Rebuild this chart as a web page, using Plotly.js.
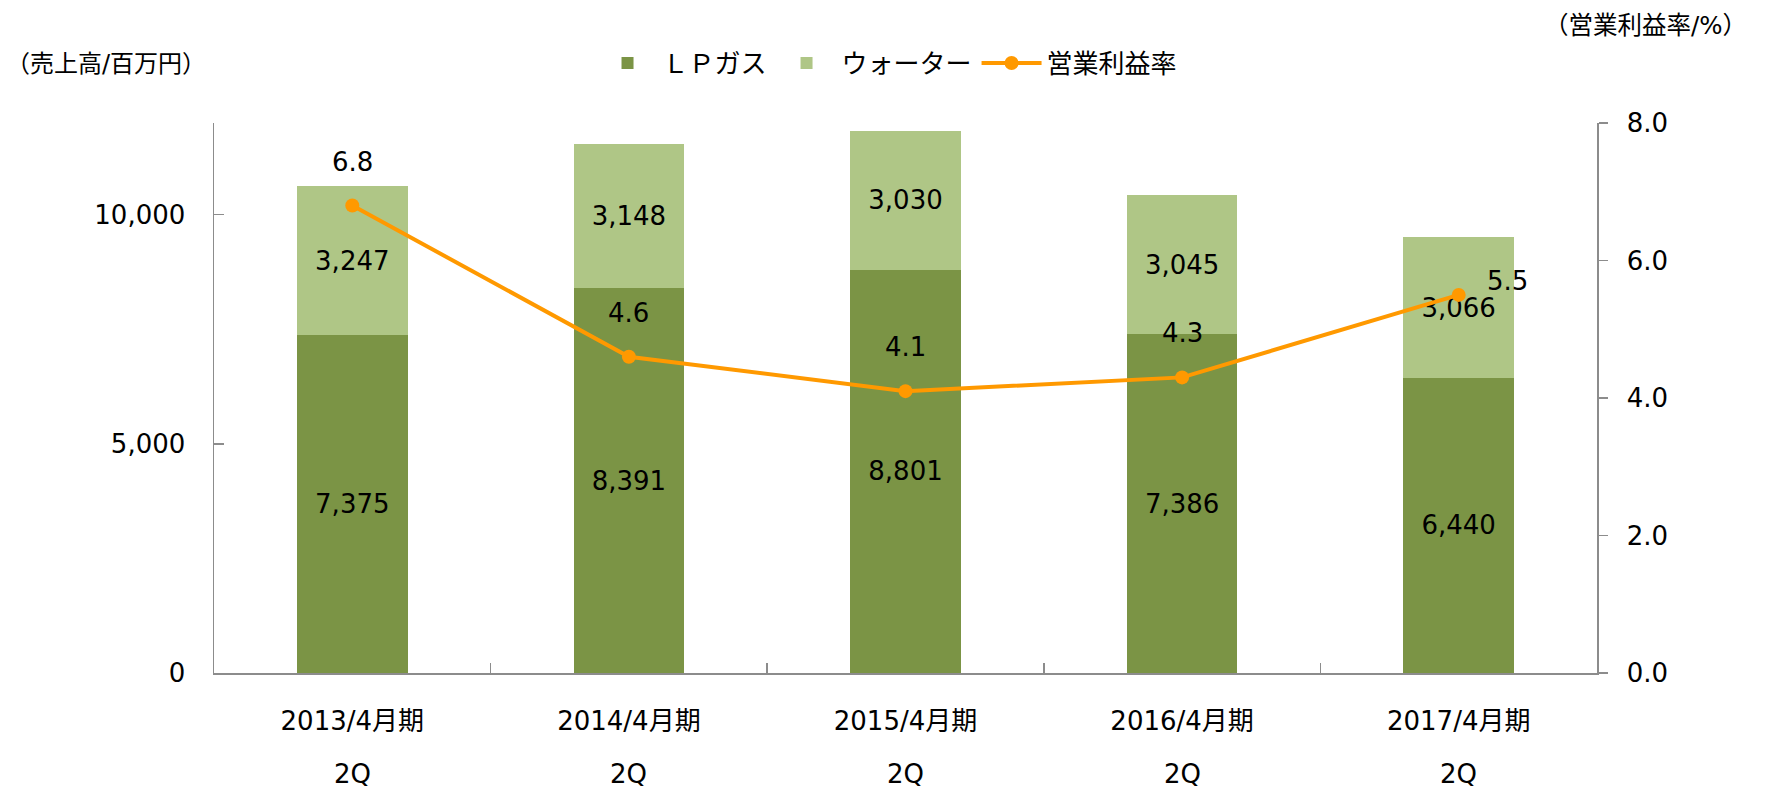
<!DOCTYPE html>
<html>
<head>
<meta charset="utf-8">
<script src="https://cdn.plot.ly/plotly-3.0.1.min.js"></script>
<style>html,body{margin:0;padding:0;background:#fff;}#chart{width:1767px;height:789px;}</style>
</head>
<body>
<div id="chart"></div>
<script>
// ---- data ----
const periods = ['2013/4月期', '2014/4月期', '2015/4月期', '2016/4月期', '2017/4月期'];
const quarter = '2Q';
const lpGas = [7375, 8391, 8801, 7386, 6440];
const water = [3247, 3148, 3030, 3045, 3066];
const margin = [6.8, 4.6, 4.1, 4.3, 5.5];
const seriesNames = ['ＬＰガス', 'ウォーター', '営業利益率'];
const leftTicks = [0, 5000, 10000];
const rightTicks = [0, 2, 4, 6, 8];

const FONT = 'DejaVu Sans, Verdana, "Noto Sans CJK JP", sans-serif';
const AXIS = '#8c8c8c';
const FS = 26;

const traces = [
  {
    type: 'bar', name: seriesNames[0], x: periods, y: lpGas,
    marker: {color: '#7b9445', line: {width: 0}},
    texttemplate: '%{y:,}', textposition: 'inside', insidetextanchor: 'middle',
    textangle: 0, constraintext: 'none',
    textfont: {family: FONT, size: FS, color: '#000'}, hoverinfo: 'skip'
  },
  {
    type: 'bar', name: seriesNames[1], x: periods, y: water,
    marker: {color: '#afc686', line: {width: 0}},
    texttemplate: '%{y:,}', textposition: 'inside', insidetextanchor: 'middle',
    textangle: 0, constraintext: 'none',
    textfont: {family: FONT, size: FS, color: '#000'}, hoverinfo: 'skip'
  },
  {
    type: 'scatter', mode: 'lines+markers', name: seriesNames[2], x: periods, y: margin,
    yaxis: 'y2',
    line: {color: '#ff9900', width: 4},
    marker: {color: '#ff9900', size: 14}, hoverinfo: 'skip'
  }
];

const annotations = margin.map((v, i) => {
  const last = i === margin.length - 1;
  return {
    x: periods[i], y: v, xref: 'x', yref: 'y2', showarrow: false,
    text: v.toFixed(1),
    xanchor: last ? 'left' : 'center', yanchor: 'middle',
    xshift: last ? 26 : 0, yshift: last ? 14 : 44,
    font: {family: FONT, size: FS, color: '#000'}
  };
});
periods.forEach(p => {
  annotations.push({
    x: p, xref: 'x', y: -0.184, yref: 'paper', text: quarter, showarrow: false,
    xanchor: 'center', yanchor: 'middle',
    font: {family: FONT, size: FS, color: '#000'}
  });
});
annotations.push({
  text: '（売上高/百万円）', xref: 'paper', yref: 'paper', x: -0.152, y: 1.107,
  xanchor: 'left', yanchor: 'middle', showarrow: false,
  font: {family: FONT, size: 24, color: '#000'}
});
annotations.push({
  text: '（営業利益率/%）', xref: 'paper', yref: 'paper', x: 1.110, y: 1.178,
  xanchor: 'right', yanchor: 'middle', showarrow: false,
  font: {family: FONT, size: 24.5, color: '#000'}
});

const layout = {
  width: 1767, height: 789,
  margin: {l: 214, r: 170, t: 123, b: 116},
  paper_bgcolor: '#fff', plot_bgcolor: '#fff',
  barmode: 'stack', bargap: 0.6,
  font: {family: FONT, size: FS, color: '#000'},
  showlegend: true,
  legend: {
    orientation: 'h', x: 0.487, xanchor: 'center', y: 1.109, yanchor: 'middle',
    font: {family: FONT, size: FS, color: '#000'}, itemwidth: 60,
    traceorder: 'normal'
  },
  xaxis: {
    type: 'category', tickvals: periods, ticktext: periods,
    showline: true, linecolor: AXIS, linewidth: 1.5,
    ticks: 'inside', tickson: 'boundaries', ticklen: 10, tickcolor: AXIS, tickwidth: 1.5,
    ticklabelstandoff: 24,
    showgrid: false, zeroline: false,
    tickfont: {family: FONT, size: FS, color: '#000'}
  },
  yaxis: {
    range: [0, 12000], tickvals: leftTicks, tickformat: ',',
    showline: true, linecolor: AXIS, linewidth: 1.5,
    ticks: 'inside', ticklen: 10, tickcolor: AXIS, tickwidth: 1.5,
    ticklabelstandoff: 22,
    showgrid: false, zeroline: false,
    tickfont: {family: FONT, size: FS, color: '#000'}
  },
  yaxis2: {
    range: [0, 8], tickvals: rightTicks, tickformat: '.1f',
    overlaying: 'y', side: 'right',
    showline: true, linecolor: AXIS, linewidth: 1.5,
    ticks: 'outside', ticklen: 9, tickcolor: AXIS, tickwidth: 1.5,
    ticklabelstandoff: 14,
    showgrid: false, zeroline: false,
    tickfont: {family: FONT, size: FS, color: '#000'}
  },
  annotations: annotations
};

Plotly.newPlot('chart', traces, layout, {displayModeBar: false, staticPlot: true});
</script>
</body>
</html>
